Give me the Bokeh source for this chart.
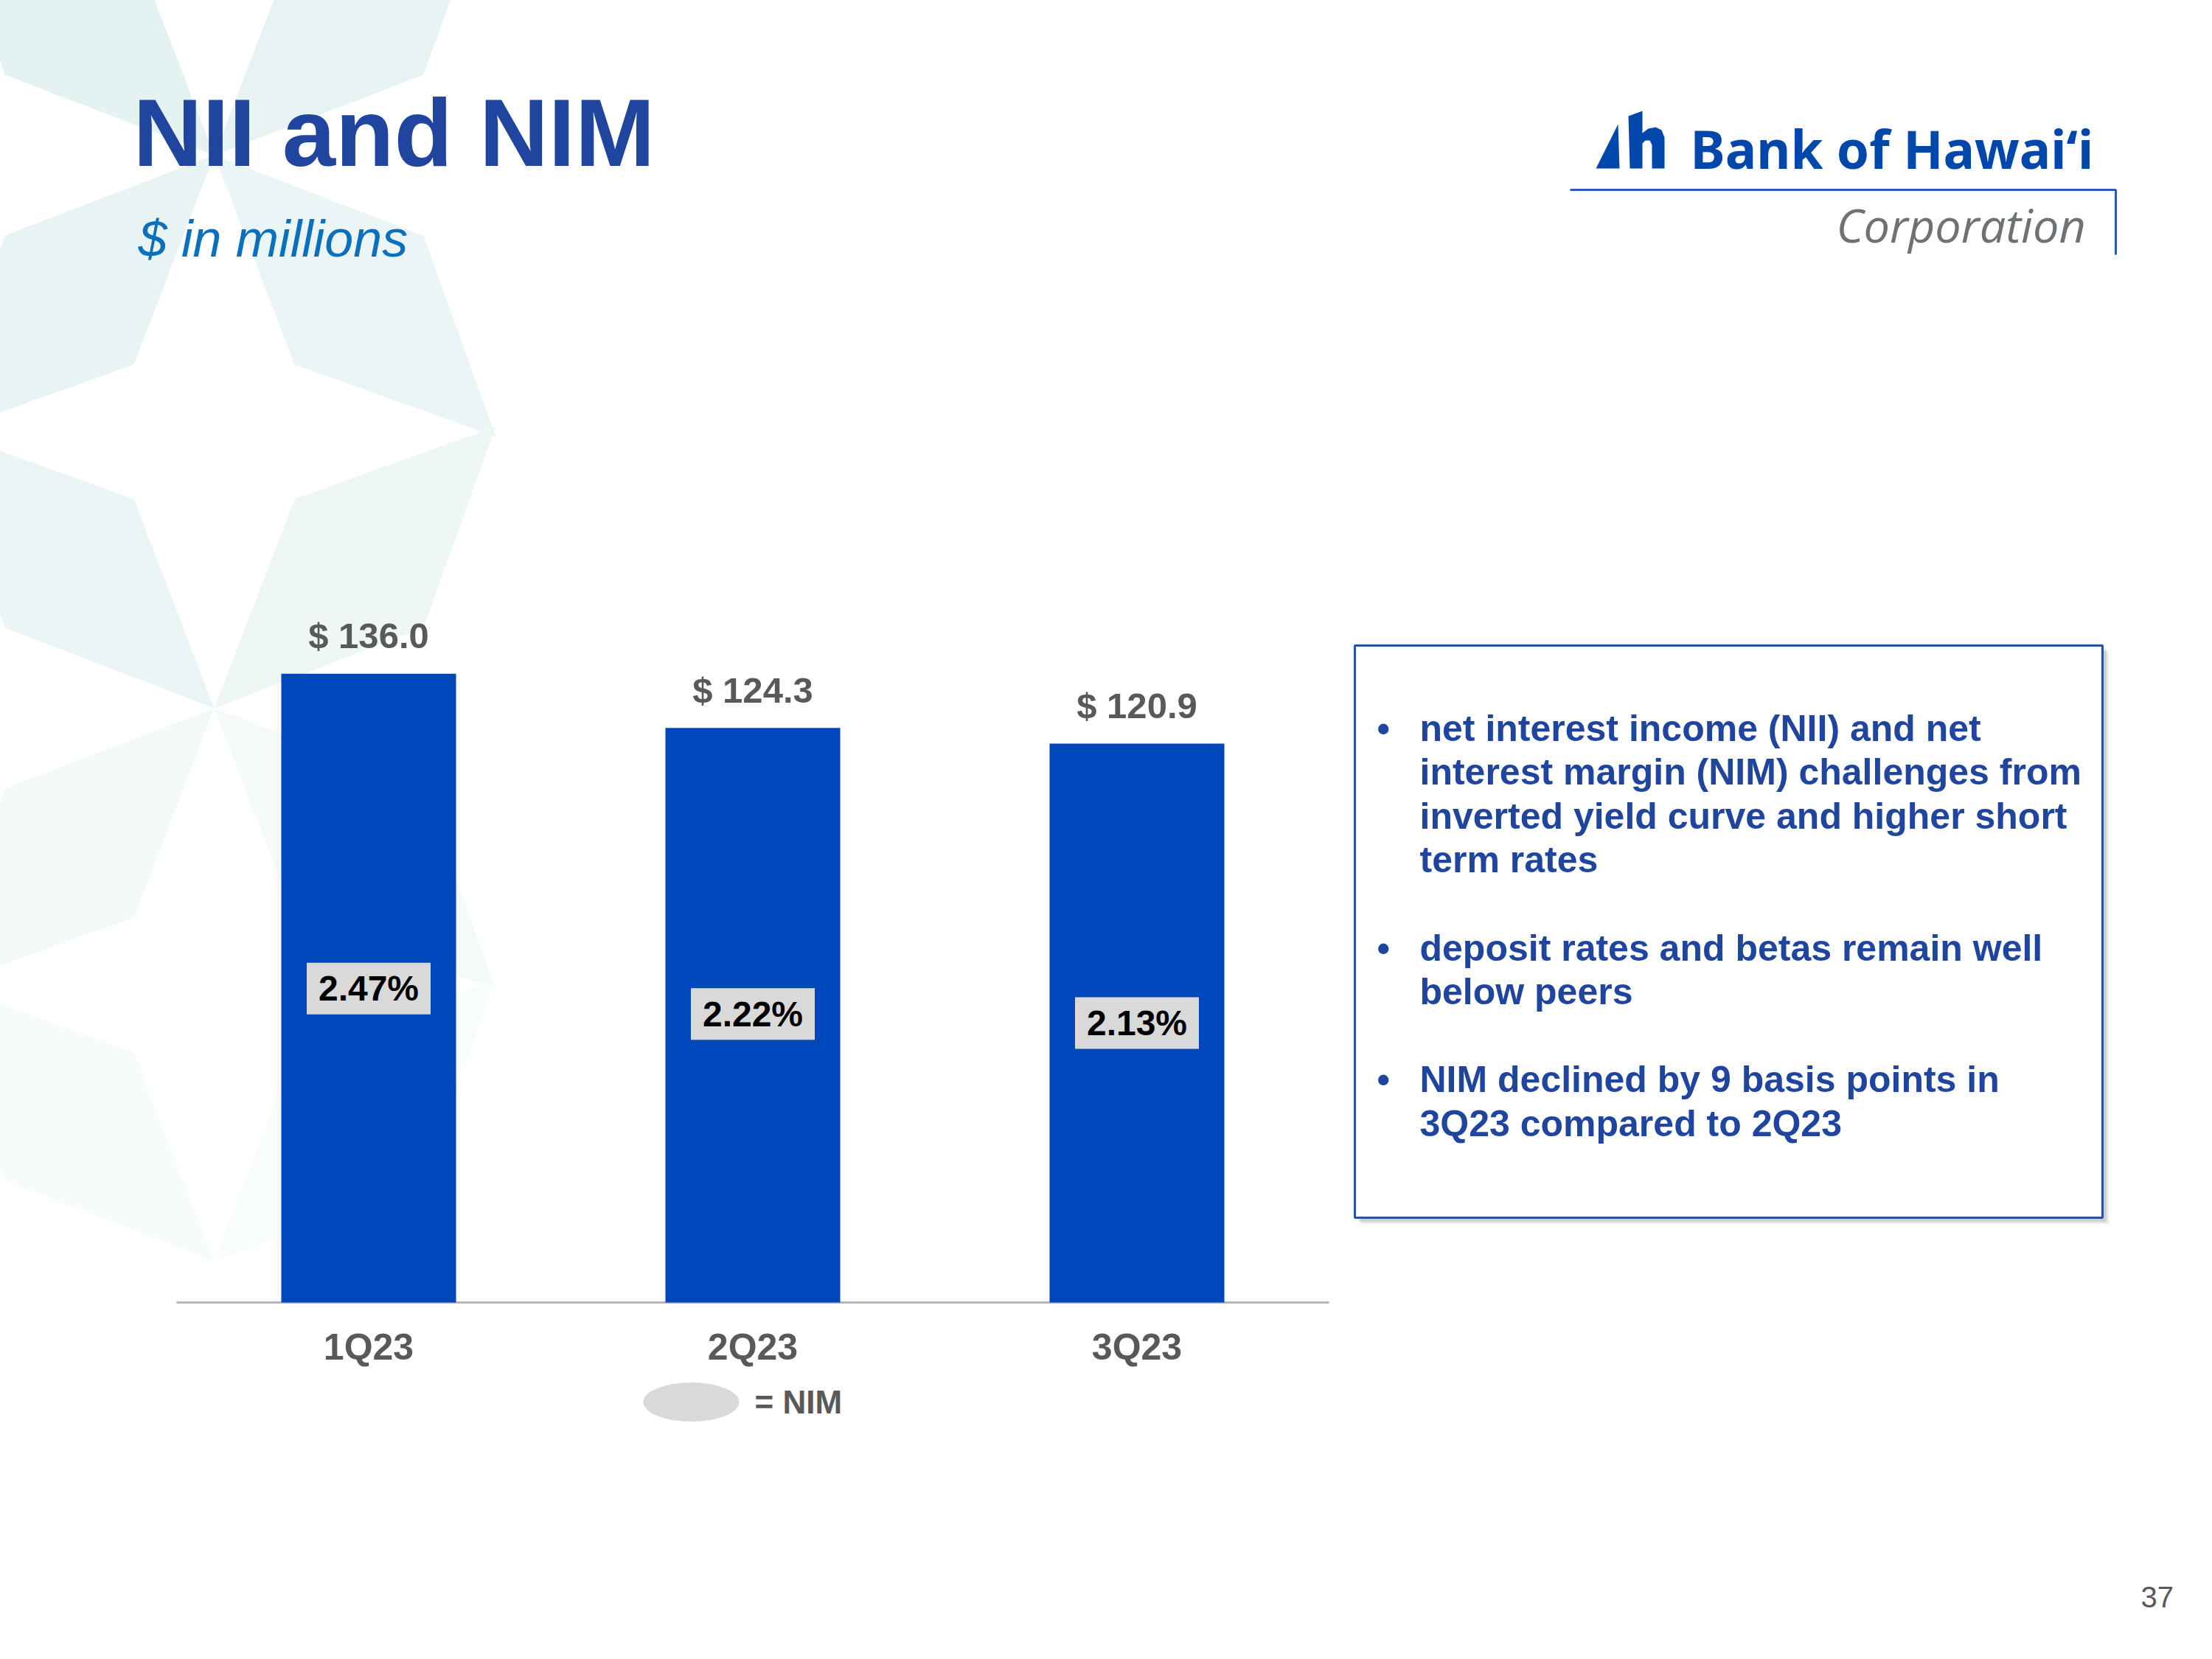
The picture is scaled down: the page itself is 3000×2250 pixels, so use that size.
import math

from bokeh.core.properties import value
from bokeh.embed import file_html
from bokeh.models import ColumnDataSource, FixedTicker, Range1d
from bokeh.plotting import figure
from bokeh.resources import INLINE

# ---- chart data -------------------------------------------------------------
quarters = ["1Q23", "2Q23", "3Q23"]
nii_values = [136.0, 124.3, 120.9]      # net interest income, $ millions
nim_values = [2.47, 2.22, 2.13]         # net interest margin, %

bullet_points = [
    ["net interest income (NII) and net",
     "interest margin (NIM) challenges from",
     "inverted yield curve and higher short",
     "term rates"],
    ["deposit rates and betas remain well",
     "below peers"],
    ["NIM declined by 9 basis points in",
     "3Q23 compared to 2Q23"],
]

# ---- page geometry (pixels) -------------------------------------------------
W, H = 3000, 2250
AX_L, AX_R, AX_Y = 239, 1802, 1766      # extent of the category axis line
PX_PER_MILLION = 6.27
NIM_PX0, NIM_PX_PER_PT = 1681.0, 138.0  # placement of the NIM call-outs
MID = 0.38                              # baseline -> text middle, in em

BLUE_BAR = "#0047BB"
NAVY = "#1F459F"
GREY_TXT = "#595959"
SANS = value("Liberation Sans")

slots = list(range(len(quarters)))      # one slot per quarter on the x axis

p = figure(
    width=W, height=H,
    x_range=Range1d(-0.5, len(quarters) - 0.5),
    y_range=Range1d(0, AX_Y / PX_PER_MILLION),
    output_backend="svg", toolbar_location=None,
    y_axis_location=None,
    min_border_left=AX_L, min_border_right=W - AX_R,
    min_border_top=0, min_border_bottom=H - AX_Y,
)
p.outline_line_color = None
p.xgrid.visible = False
p.ygrid.visible = False
p.background_fill_color = "white"
p.border_fill_color = "white"

# page coordinates in pixels (y grows downward) and a scale for the NIM values
p.extra_x_ranges = {"page": Range1d(AX_L, AX_R)}
p.extra_y_ranges = {
    "page": Range1d(AX_Y, 0),
    "nim": Range1d((NIM_PX0 - AX_Y) / NIM_PX_PER_PT, NIM_PX0 / NIM_PX_PER_PT),
}
PAGE = dict(x_range_name="page", y_range_name="page", level="overlay")


def page_text(xs, baselines, texts, size, color, font=SANS, style="normal",
              align="left"):
    """Place text on the page by its baseline."""
    p.text(x=xs, y=[b - MID * size for b in baselines], text=texts,
           text_align=align, text_baseline="middle", text_font=font,
           text_font_style=style, text_font_size=value(f"{size}px"),
           text_color=color, **PAGE)


# ---- faint star pattern in the background ----------------------------------
def kite(cx, cy, axis_deg, r_side=304, half=24, r_tip=540):
    xs, ys = [cx], [cy]
    for ang, r in ((axis_deg - half, r_side), (axis_deg, r_tip), (axis_deg + half, r_side)):
        a = math.radians(ang)
        xs.append(cx + r * math.cos(a))
        ys.append(cy - r * math.sin(a))
    return xs, ys

petals = [
    ((290, 210), 135, "#e5f2f2"), ((290, 210), 45, "#e7f3f3"),
    ((290, 210), 225, "#e8f3f3"), ((290, 210), 315, "#ebf5f5"),
    ((290, 960), 135, "#ecf5f5"), ((290, 960), 45, "#eef6f6"),
    ((290, 960), 225, "#f3f9f9"), ((290, 960), 315, "#f4f9f9"),
    ((290, 1710), 135, "#f8fbfb"), ((290, 1710), 45, "#f9fcfc"),
]
pxs, pys, pcols = [], [], []
for (cx, cy), ang, col in petals:
    kx, ky = kite(cx, cy, ang)
    pxs.append(kx)
    pys.append(ky)
    pcols.append(col)
p.patches(xs=pxs, ys=pys, fill_color=pcols, line_color=None, **PAGE)

# ---- bars and labels --------------------------------------------------------
src = ColumnDataSource(dict(
    slot=slots,
    nii=nii_values,
    nim=nim_values,
    nii_label=[f"$ {v:.1f}" for v in nii_values],
    nim_label=[f"{v:.2f}%" for v in nim_values],
))

p.vbar(x="slot", top="nii", width=0.455, source=src,
       fill_color=BLUE_BAR, line_color=None, level="overlay")

p.text(x="slot", y="nii", text="nii_label", source=src,
       y_offset=-(33 + MID * 49),
       text_align="center", text_baseline="middle",
       text_font=SANS, text_font_style="bold",
       text_font_size=value("49px"), text_color=GREY_TXT, level="overlay")

p.rect(x="slot", y="nim", width=168, height=70, width_units="screen",
       height_units="screen", y_range_name="nim", source=src,
       fill_color="#d9d9d9", line_color=None, level="overlay")
p.text(x="slot", y="nim", text="nim_label", y_range_name="nim", source=src,
       text_align="center", text_baseline="middle",
       text_font=SANS, text_font_style="bold",
       text_font_size=value("48px"), text_color="black", level="overlay")

# ---- category axis ----------------------------------------------------------
ax = p.xaxis[0]
ax.ticker = FixedTicker(ticks=slots)
ax.major_label_overrides = {s: q for s, q in zip(slots, quarters)}
ax.axis_line_color = "#b4b8b8"
ax.axis_line_width = 3
ax.major_tick_line_color = None
ax.minor_tick_line_color = None
ax.major_label_standoff = 26
ax.major_label_text_font = "Liberation Sans"
ax.major_label_text_font_style = "bold"
ax.major_label_text_font_size = "50px"
ax.major_label_text_color = GREY_TXT

# legend key for the NIM call-outs
p.ellipse(x=[937], y=[1901], width=[130], height=[53],
          fill_color="#d9d9d9", line_color=None, **PAGE)
p.text(x=[1023], y=[1901], text=["= NIM"], text_align="left",
       text_baseline="middle", text_font=SANS, text_font_style="bold",
       text_font_size=value("44px"), text_color=GREY_TXT, **PAGE)

# ---- heading ----------------------------------------------------------------
page_text([180], [229], ["NII and NIM"], 130, NAVY, style="bold")
page_text([187], [350], ["$ in millions"], 70, "#0A70BE", style="italic")

# ---- logo -------------------------------------------------------------------
LOGO_BLUE = "#0047AB"
sail_x = [2164, 2196, 2194]
sail_y = [228, 228, 168]
h_x = [2208, 2227, 2227, 2235, 2245, 2253, 2257, 2257, 2240, 2240, 2237,
       2231, 2227, 2227, 2210]
h_y = [157, 150, 180, 174, 172, 176, 186, 228, 228, 196, 190, 190, 194,
       228, 228]
p.patch(x=sail_x, y=sail_y, fill_color=LOGO_BLUE, line_color=None, **PAGE)
p.patch(x=h_x, y=h_y, fill_color=LOGO_BLUE, line_color=None, **PAGE)
page_text([2292], [228], ["Bank of Hawai\u2018i"], 71, LOGO_BLUE,
          font=value("Noto Sans"), style="bold")
p.line(x=[2129, 2869, 2869], y=[257, 257, 345], line_color="#2B5CB5",
       line_width=3, **PAGE)
page_text([2490], [328], ["Corporation"], 63, "#6D7276",
          font=value("Open Sans"), style="italic")

# ---- commentary box ---------------------------------------------------------
BOX_L, BOX_R, BOX_T, BOX_B = 1837, 2851, 875, 1651
for off, alpha in ((9, 0.10), (7, 0.16), (5, 0.22)):
    p.quad(left=[BOX_L + off], right=[BOX_R + off], top=[BOX_T + off],
           bottom=[BOX_B + off], fill_color="#8a8a8a", fill_alpha=alpha,
           line_color=None, **PAGE)
p.quad(left=[BOX_L], right=[BOX_R], top=[BOX_T], bottom=[BOX_B],
       fill_color="white", line_color="#2D4EA3", line_width=3, **PAGE)

line_x, bullet_x = 1925, 1867
first_base, step = 1006, 59.6
row = 0
tx, ty, tt, bx, by = [], [], [], [], []
for group in bullet_points:
    bx.append(bullet_x)
    by.append(first_base + row * step)
    for line in group:
        tx.append(line_x)
        ty.append(first_base + row * step)
        tt.append(line)
        row += 1
    row += 1
page_text(bx, by, ["\u2022"] * len(bx), 50, NAVY, style="bold")
page_text(tx, ty, tt, 50, NAVY, style="bold")

# page number
page_text([2903], [2181], ["37"], 40, GREY_TXT)

open("out.html", "w").write(file_html(p, INLINE))
